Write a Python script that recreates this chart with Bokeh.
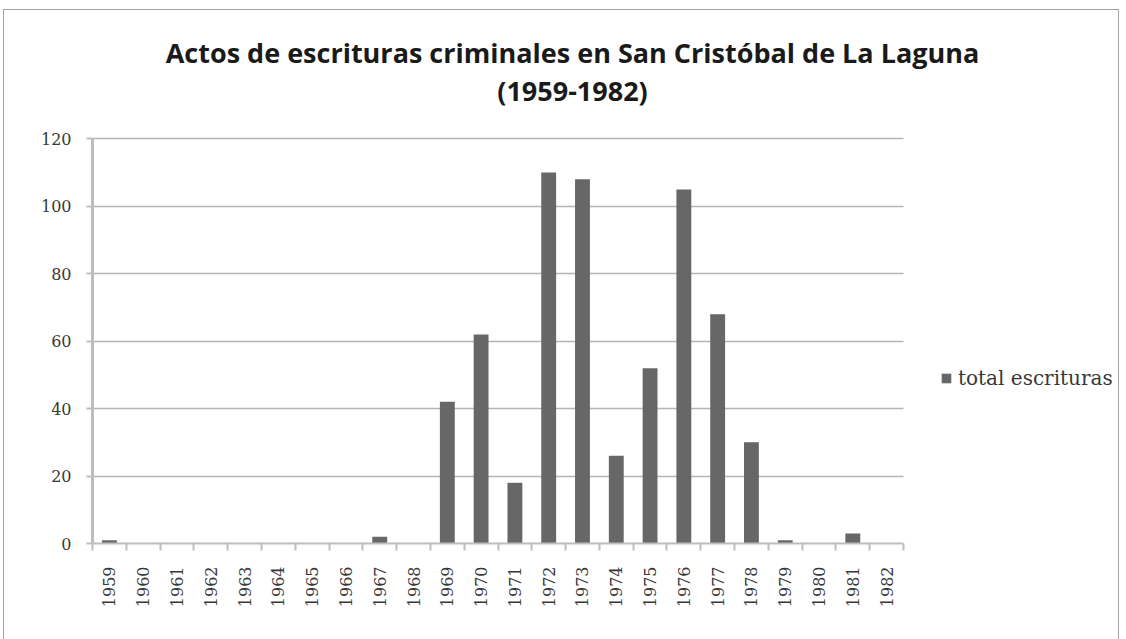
from bokeh.plotting import figure
from bokeh.models import (Range1d, FixedTicker, Label, Legend, LegendItem,
                          ColumnDataSource)
from bokeh.embed import file_html
from bokeh.resources import INLINE
from math import pi

years = [1959, 1960, 1961, 1962, 1963, 1964, 1965, 1966, 1967, 1968, 1969, 1970,
         1971, 1972, 1973, 1974, 1975, 1976, 1977, 1978, 1979, 1980, 1981, 1982]
totals = [1, 0, 0, 0, 0, 0, 0, 0, 2, 0, 42, 62,
          18, 110, 108, 26, 52, 105, 68, 30, 1, 0, 3, 0]
y_ticks = [0, 20, 40, 60, 80, 100, 120]
title_lines = ["Actos de escrituras criminales en San Cristóbal de La Laguna", "(1959-1982)"]
series_name = "total escrituras"

# ---- layout constants (pixels) ----
W, H = 1114, 629
LEFT, TOP, RIGHT, BOTTOM = 88, 1, 1, 96
AXIS_W_PX = 811.0     # width of the bar area
AXIS_H_PX = 404.7     # height of the 0..120 value area
frame_w = W - LEFT - RIGHT
frame_h = H - TOP - BOTTOM
x0 = years[0] - 0.5
x1 = years[-1] + 0.5
x_end = x0 + (x1 - x0) * frame_w / AXIS_W_PX
y_end = y_ticks[-1] * frame_h / AXIS_H_PX

src = ColumnDataSource(dict(year=years, total=totals))

p = figure(width=W, height=H, output_backend="svg", toolbar_location=None,
           x_range=Range1d(x0, x_end), y_range=Range1d(0, y_end),
           min_border_left=LEFT, min_border_right=RIGHT,
           min_border_top=TOP, min_border_bottom=BOTTOM,
           styles={"outline": "1px solid #a3a3a3", "margin-left": "4px",
                   "margin-top": "10px"})
p.title = None
p.outline_line_color = None
p.background_fill_color = "white"
p.border_fill_color = "white"

bars = p.vbar(x="year", top="total", width=0.44, source=src,
              fill_color="#676767", line_color=None)

grey = "#bdbdbd"
label_font = "DejaVu Serif"

# x axis
xa = p.xaxis[0]
xa.bounds = (x0, x1)
xa.ticker = FixedTicker(ticks=years, minor_ticks=[y - 0.5 for y in years] + [x1])
xa.major_label_overrides = {y: str(y) for y in years}
xa.major_tick_out = 0
xa.major_tick_in = 0
xa.minor_tick_out = 7
xa.minor_tick_in = 0
xa.minor_tick_line_color = grey
xa.minor_tick_line_width = 2
xa.axis_line_color = grey
xa.axis_line_width = 2
xa.major_label_orientation = pi / 2
xa.major_label_standoff = 16
xa.major_label_text_font = label_font
xa.major_label_text_font_size = "16px"
xa.major_label_text_color = "#383838"

# y axis
ya = p.yaxis[0]
ya.bounds = (y_ticks[0], y_ticks[-1])
ya.ticker = FixedTicker(ticks=y_ticks, minor_ticks=[])
ya.major_tick_out = 6
ya.major_tick_in = 0
ya.major_tick_line_color = grey
ya.major_tick_line_width = 2
ya.axis_line_color = grey
ya.axis_line_width = 3
ya.major_label_standoff = 15
ya.major_label_text_font = label_font
ya.major_label_text_font_size = "16px"
ya.major_label_text_color = "#383838"

p.xgrid.grid_line_color = None
yg = p.ygrid[0]
yg.ticker = FixedTicker(ticks=y_ticks)
yg.bounds = (y_ticks[0], y_ticks[-1])
grid_color = "#b5b5b5"
if "cross_bounds" in yg.properties():
    yg.cross_bounds = (x0, x1)
    yg.grid_line_color = grid_color
    yg.grid_line_width = 1.5
else:
    yg.grid_line_color = None
    p.segment(x0=[x0] * len(y_ticks), x1=[x1] * len(y_ticks), y0=y_ticks, y1=y_ticks,
              line_color=grid_color, line_width=1.5, level="underlay")

# title (two centred lines), positioned relative to the plot area
for txt, yb in zip(title_lines, [491, 453]):
    p.add_layout(Label(x=480, y=yb, x_units="screen", y_units="screen", text=txt,
                       text_align="center", text_baseline="alphabetic",
                       text_font="Open Sans", text_font_style="bold",
                       text_font_size="27px", text_color="#1a1a1a"))

legend = Legend(items=[LegendItem(label=series_name, renderers=[bars])],
                location=(848, 153), orientation="vertical",
                glyph_width=12, glyph_height=12, label_standoff=6,
                padding=0, margin=0, border_line_color=None,
                background_fill_alpha=0,
                label_text_font=label_font, label_text_font_size="20px",
                label_text_color="#383838", label_height=12)
p.add_layout(legend, "center")

open("out.html", "w").write(file_html(p, INLINE))
